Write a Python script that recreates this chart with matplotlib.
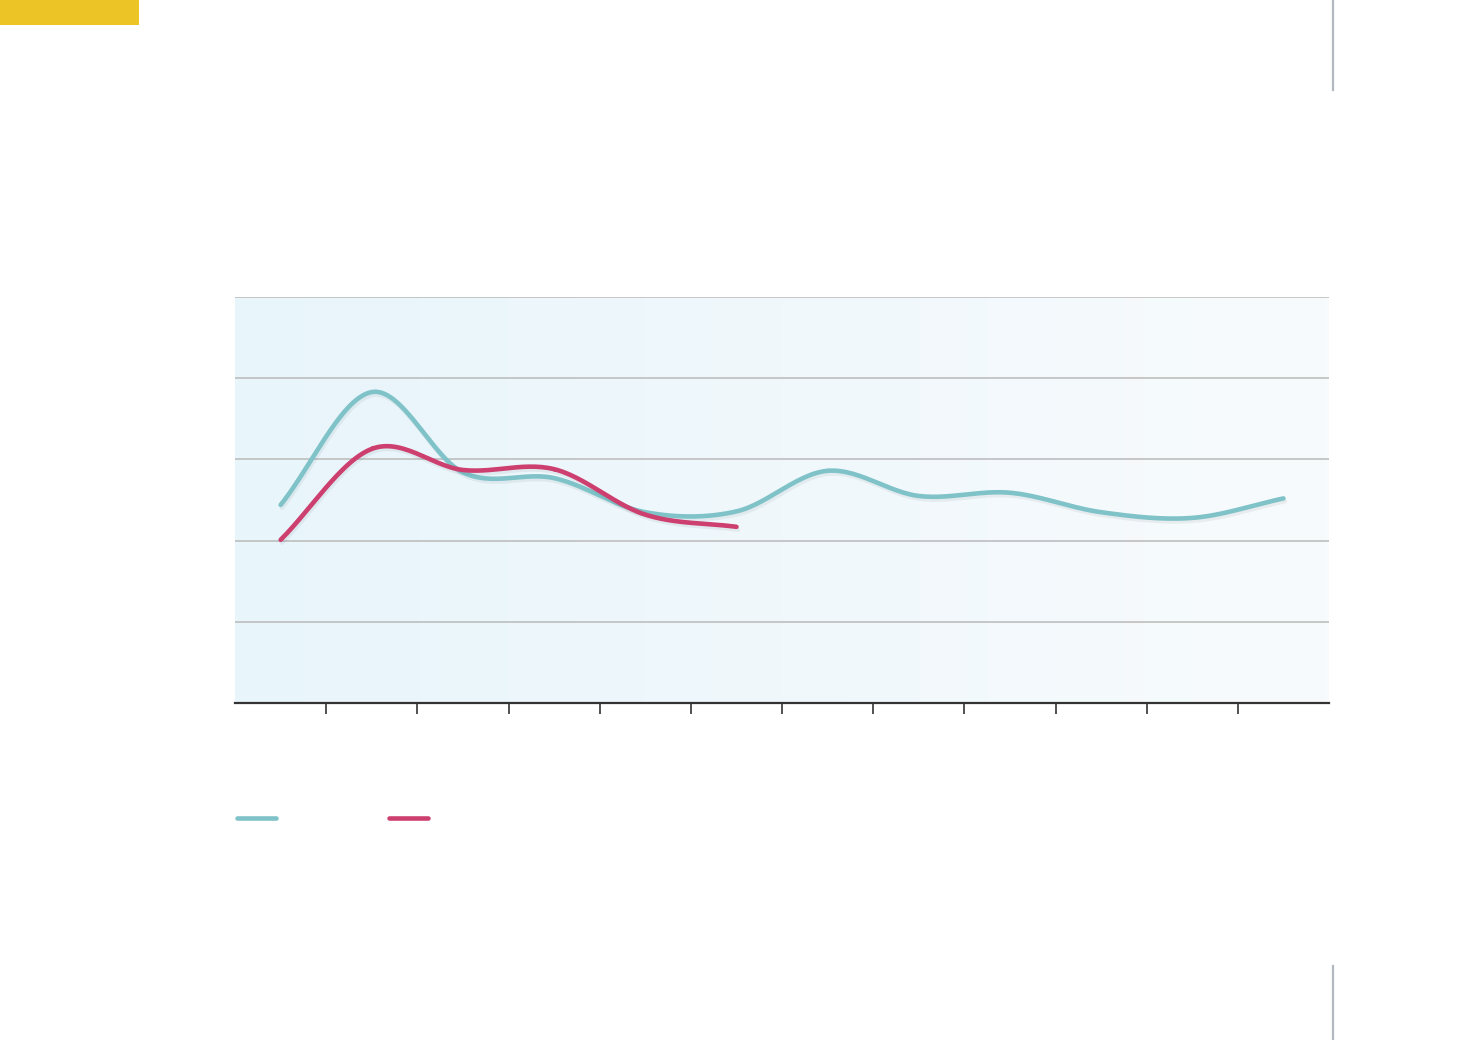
import numpy as np
import matplotlib
matplotlib.use("Agg")
import matplotlib.pyplot as plt
import matplotlib.patheffects as pe
from matplotlib.lines import Line2D
from matplotlib.patches import Rectangle

# data (0-50 scale, 12 periods)
periods = np.arange(12) + 0.5
teal_vals = [24.4, 38.3, 28.4, 27.7, 23.5, 23.6, 28.6, 25.5, 25.9, 23.5, 22.8, 25.2]
red_vals = [20.1, 31.3, 28.7, 28.8, 23.2, 21.7]

teal = "#7fc3c9"
red = "#cc3f6f"


def smooth(x, y, n=30):
    # catmull-rom through the points, ends extrapolated so they run straight
    x = np.asarray(x, float)
    y = np.asarray(y, float)
    px = np.concatenate([[2 * x[0] - x[1]], x, [2 * x[-1] - x[-2]]])
    py = np.concatenate([[2 * y[0] - y[1]], y, [2 * y[-1] - y[-2]]])
    xs, ys = [], []
    for i in range(1, len(px) - 2):
        t = np.linspace(0, 1, n)
        for arr, out in ((px, xs), (py, ys)):
            p0, p1, p2, p3 = arr[i - 1], arr[i], arr[i + 1], arr[i + 2]
            out.extend(0.5 * ((2 * p1) + (-p0 + p2) * t
                              + (2 * p0 - 5 * p1 + 4 * p2 - p3) * t ** 2
                              + (-p0 + 3 * p1 - 3 * p2 + p3) * t ** 3))
    return np.array(xs), np.array(ys)


fig = plt.figure(figsize=(14.71, 10.40), dpi=100)
ax = fig.add_axes([0.1598, 0.324, 0.7437, 0.3904])

# soft gradient background
grad = np.linspace(0, 1, 256).reshape(1, -1)
left_c = np.array([232, 245, 251]) / 255
right_c = np.array([248, 251, 253]) / 255
img = left_c[None, None, :] * (1 - grad[..., None]) + right_c[None, None, :] * grad[..., None]
ax.imshow(img, extent=[0, 12, 0, 50], aspect="auto", zorder=0)

ax.set_xlim(0, 12)
ax.set_ylim(0, 50)
ax.set_yticks([10, 20, 30, 40, 50])
ax.yaxis.grid(True, color="#b9b9b9", linewidth=1.1)
ax.set_axisbelow(False)
for g in ax.get_ygridlines():
    g.set_zorder(1)

for s in ["top", "left", "right"]:
    ax.spines[s].set_visible(False)
ax.spines["bottom"].set_color("#333333")
ax.spines["bottom"].set_linewidth(1.6)
ax.spines["bottom"].set_zorder(3)

ax.set_xticks(np.arange(1, 12))
ax.tick_params(axis="x", direction="out", length=8, width=1.2, color="#333333", labelbottom=False)
ax.tick_params(axis="y", length=0, labelleft=False)

shadow = [pe.SimpleLineShadow(offset=(1.0, -2.0), alpha=0.07, shadow_color="#304050"), pe.Normal()]

tx, ty = smooth(periods, teal_vals)
ax.plot(tx, ty, color=teal, linewidth=3.3, solid_capstyle="round", path_effects=shadow, zorder=4)
rx, ry = smooth(periods[:len(red_vals)], red_vals)
ax.plot(rx, ry, color=red, linewidth=3.3, solid_capstyle="round", path_effects=shadow, zorder=5)

# legend keys (no labels in the original)
fig.add_artist(Line2D([237 / 1471, 276 / 1471], [1 - 818 / 1040] * 2, color=teal,
                      linewidth=3.3, solid_capstyle="round"))
fig.add_artist(Line2D([389 / 1471, 428 / 1471], [1 - 818 / 1040] * 2, color=red,
                      linewidth=3.3, solid_capstyle="round"))

# page decoration
fig.add_artist(Rectangle((0, 1 - 25 / 1040), 139 / 1471, 25 / 1040, transform=fig.transFigure,
                         color="#ecc425", linewidth=0))
fig.add_artist(Line2D([1333 / 1471] * 2, [1 - 90 / 1040, 1], color="#b3b7be", linewidth=1.6))
fig.add_artist(Line2D([1333 / 1471] * 2, [0, 1 - 966 / 1040], color="#b3b7be", linewidth=1.6))

fig.savefig("out.png", dpi=100, facecolor="white")
